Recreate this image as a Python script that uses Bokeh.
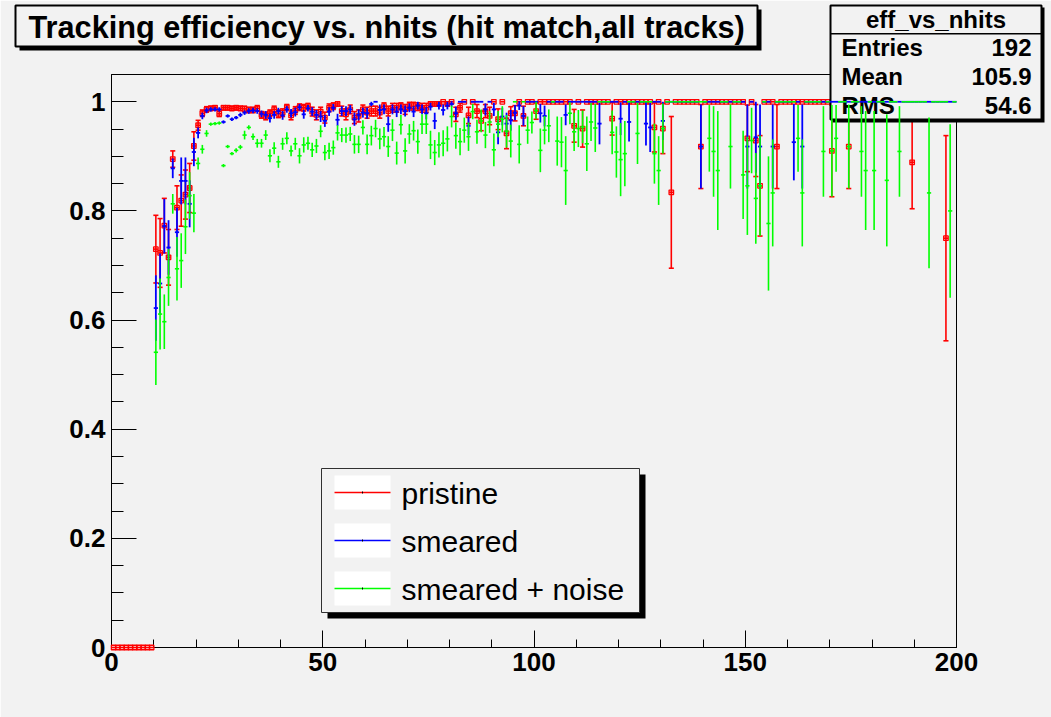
from bokeh.plotting import figure
from bokeh.models import ColumnDataSource, Range1d, FixedTicker
from bokeh.core.properties import value
from bokeh.embed import file_html
from bokeh.resources import INLINE

# ---------------------------------------------------------------------------
# Tracking efficiency per nhits bin (bins of width 1, value and binomial error)
# ---------------------------------------------------------------------------
pristine_first_bin = 0
pristine_eff = [
    0, 0, 0, 0, 0, 0, 0, 0, 0, 0,                                              # 0-9
    0.730, 0.723, 0.773, 0.715, 0.895, 0.806, 0.819, 0.830, 0.842, 0.919,      # 10-19
    0.957, 0.979, 0.986, 0.988, 0.989, 0.978, 0.989, 0.989, 0.988, 0.989,      # 20-29
    0.988, 0.987, 0.985, 0.985, 0.988, 0.976, 0.974, 0.979, 0.986, 0.978,      # 30-39
    0.980, 0.990, 0.975, 0.984, 0.990, 0.989, 0.992, 0.982, 0.976, 0.982,      # 40-49
    0.971, 0.989, 0.992, 0.996, 0.983, 0.977, 0.986, 0.971, 0.974, 0.986,      # 50-59
    0.980, 0.983, 0.983, 0.980, 0.992, 0.983, 0.989, 0.989, 0.992, 0.986,      # 60-69
    0.992, 0.992, 0.991, 0.989, 0.989, 0.996, 0.996, 0.996, 1.000, 0.996,      # 70-79
    1.000, 0.977, 0.989, 1.000, 0.975, 1.000, 0.983, 0.965, 0.983, 0.974,      # 80-89
    1.000, 0.968, 1.000, 0.942, 0.979, 0.979, 1.000, 0.974, 1.000, 1.000,      # 90-99
    0.983, 1.000, 1.000, 1.000, 1.000, 1.000, 1.000, 1.000, 1.000, 0.956,      # 100-109
    1.000, 0.951, 1.000, 1.000, 1.000, 1.000, 1.000, 1.000, 0.969, 1.000,      # 110-119
    1.000, 1.000, 1.000, 1.000, 1.000, 1.000, 1.000, 1.000, 0.953, 1.000,      # 120-129
    0.951, 1.000, 0.834, 1.000, 1.000, 1.000, 1.000, 1.000, 1.000, 0.918,      # 130-139
    1.000, 1.000, 1.000, 1.000, 1.000, 1.000, 1.000, 1.000, 1.000, 1.000,      # 140-149
    0.933, 1.000, 0.929, 0.846, 1.000, 1.000, 1.000, 0.918, 1.000, 1.000,      # 150-159
    1.000, 1.000, 1.000, 1.000, 1.000, 1.000, 1.000, 1.000, 1.000, 1.000,      # 160-169
    0.910, 1.000, 1.000, 1.000, 0.918, 1.000, 1.000, 1.000, 1.000, 1.000,      # 170-179
    1.000, 1.000, 1.000, 1.000, 1.000, 1.000, 1.000, 1.000, 1.000, 0.889,      # 180-189
    1.000, 1.000, 1.000, 1.000, 1.000, 1.000, 1.000, 0.750, 1.000, 1.000,      # 190-199
]
pristine_err = [
    0, 0, 0, 0, 0, 0, 0, 0, 0, 0,
    0.062, 0.063, 0.050, 0.051, 0.015, 0.040, 0.047, 0.045, 0.045, 0.026,
    0.009, 0.006, 0.005, 0.004, 0.004, 0.005, 0.004, 0.004, 0.004, 0.004,
    0.004, 0.005, 0.005, 0.005, 0.005, 0.006, 0.007, 0.006, 0.006, 0.007,
    0.007, 0.005, 0.008, 0.007, 0.006, 0.006, 0.005, 0.008, 0.009, 0.008,
    0.010, 0.007, 0.006, 0.004, 0.009, 0.010, 0.008, 0.011, 0.011, 0.008,
    0.010, 0.009, 0.009, 0.010, 0.006, 0.009, 0.008, 0.008, 0.006, 0.009,
    0.007, 0.007, 0.007, 0.008, 0.008, 0.004, 0.004, 0.004, 0, 0.004,
    0, 0.013, 0.008, 0, 0.015, 0, 0.012, 0.018, 0.012, 0.016,
    0, 0.019, 0, 0.028, 0.012, 0.014, 0, 0.018, 0, 0,
    0.015, 0, 0, 0, 0, 0, 0, 0, 0, 0.030,
    0, 0.034, 0, 0, 0, 0, 0, 0, 0.030, 0,
    0, 0, 0, 0, 0, 0, 0, 0, 0.045, 0,
    0.046, 0, 0.139, 0, 0, 0, 0, 0, 0, 0.077,
    0, 0, 0, 0, 0, 0, 0, 0, 0, 0,
    0.061, 0, 0.066, 0.092, 0, 0, 0, 0.077, 0, 0,
    0, 0, 0, 0, 0, 0, 0, 0, 0, 0,
    0.084, 0, 0, 0, 0.077, 0, 0, 0, 0, 0,
    0, 0, 0, 0, 0, 0, 0, 0, 0, 0.085,
    0, 0, 0, 0, 0, 0, 0, 0.188, 0, 0,
]

smeared_first_bin = 10
smeared_eff = [
    0.622, 0.667, 0.772, 0.733, 0.878, 0.761, 0.855, 0.855, 0.813, 0.908,      # 10-19
    0.943, 0.974, 0.984, 0.986, 0.986, 0.986, 0.963, 0.974, 0.968, 0.971,      # 20-29
    0.976, 0.980, 0.983, 0.984, 0.983, 0.978, 0.976, 0.970, 0.976, 0.983,      # 30-39
    0.975, 0.986, 0.979, 0.981, 0.990, 0.977, 0.988, 0.982, 0.976, 0.973,      # 40-49
    0.965, 0.982, 0.989, 0.967, 0.983, 0.983, 0.986, 0.968, 0.976, 0.980,      # 50-59
    0.979, 0.996, 1.000, 0.985, 0.986, 0.959, 0.986, 0.982, 0.986, 0.983,      # 60-69
    0.989, 0.982, 0.993, 0.986, 0.979, 0.991, 0.965, 0.993, 0.985, 0.993,      # 70-79
    0.996, 0.979, 1.000, 1.000, 0.956, 1.000, 1.000, 1.000, 0.986, 1.000,      # 80-89
    0.986, 0.944, 0.973, 0.960, 0.966, 0.980, 0.993, 0.974, 1.000, 1.000,      # 90-99
    1.000, 0.979, 0.974, 1.000, 1.000, 1.000, 1.000, 0.976, 1.000, 1.000,      # 100-109
    1.000, 1.000, 1.000, 1.000, 1.000, 0.960, 1.000, 1.000, 1.000, 1.000,      # 110-119
    0.969, 1.000, 0.963, 1.000, 1.000, 1.000, 0.960, 0.953, 1.000, 1.000,      # 120-129
    0.965, 1.000, 1.000, 1.000, 1.000, 1.000, 1.000, 1.000, 1.000, 0.918,      # 130-139
    1.000, 1.000, 1.000, 1.000, 1.000, 1.000, 1.000, 1.000, 1.000, 1.000,      # 140-149
    0.918, 1.000, 0.935, 0.918, 1.000, 1.000, 0.918, 1.000, 1.000, 1.000,      # 150-159
    1.000, 0.926, 1.000, 0.918, 1.000, 1.000, 1.000, 1.000, 1.000, 1.000,      # 160-169
    1.000, 1.000, 1.000, 1.000, 1.000, 1.000, 1.000, 1.000, 1.000, 1.000,      # 170-179
    1.000, 1.000, 1.000, 1.000, 1.000, 1.000, 1.000, 1.000, 1.000, 1.000,      # 180-189
    1.000, 1.000, 1.000, 1.000, 1.000, 1.000, 1.000, 1.000, 1.000, 1.000,      # 190-199
]
smeared_err = [
    0.060, 0.055, 0.050, 0.050, 0.018, 0.045, 0.043, 0.043, 0.043, 0.026,
    0.010, 0.006, 0.005, 0.004, 0.004, 0.004, 0.003, 0.003, 0.003, 0.003,
    0.004, 0.004, 0.005, 0.005, 0.005, 0.006, 0.007, 0.008, 0.007, 0.006,
    0.008, 0.006, 0.008, 0.008, 0.006, 0.008, 0.006, 0.008, 0.009, 0.010,
    0.011, 0.008, 0.007, 0.011, 0.009, 0.009, 0.008, 0.012, 0.010, 0.009,
    0.010, 0.004, 0, 0.010, 0.009, 0.014, 0.009, 0.010, 0.009, 0.010,
    0.008, 0.010, 0.007, 0.009, 0.011, 0.007, 0.015, 0.007, 0.010, 0.007,
    0.005, 0.012, 0, 0, 0.017, 0, 0, 0, 0.011, 0,
    0.012, 0.022, 0.016, 0.020, 0.019, 0.014, 0.008, 0.018, 0, 0,
    0, 0.017, 0.019, 0, 0, 0, 0, 0.019, 0, 0,
    0, 0, 0, 0, 0, 0.038, 0, 0, 0, 0,
    0.030, 0, 0.036, 0, 0, 0, 0.040, 0.045, 0, 0,
    0.035, 0, 0, 0, 0, 0, 0, 0, 0, 0.077,
    0, 0, 0, 0, 0, 0, 0, 0, 0, 0,
    0.077, 0, 0.065, 0.077, 0, 0, 0.077, 0, 0, 0,
    0, 0.070, 0, 0.077, 0, 0, 0, 0, 0, 0,
    0, 0, 0, 0, 0, 0, 0, 0, 0, 0,
    0, 0, 0, 0, 0, 0, 0, 0, 0, 0,
    0, 0, 0, 0, 0, 0, 0, 0, 0, 0,
]

noise_first_bin = 10
noise_eff = [
    0.541, 0.611, 0.597, 0.678, 0.813, 0.694, 0.709, 0.771, 0.828, 0.796,      # 10-19
    0.887, 0.913, 0.942, 0.959, 0.960, 0.961, 0.883, 0.918, 0.905, 0.911,      # 20-29
    0.917, 0.939, 0.953, 0.936, 0.924, 0.924, 0.939, 0.901, 0.915, 0.890,      # 30-39
    0.923, 0.933, 0.910, 0.923, 0.901, 0.921, 0.924, 0.912, 0.919, 0.946,      # 40-49
    0.907, 0.910, 0.916, 0.943, 0.939, 0.939, 0.941, 0.922, 0.922, 0.953,      # 50-59
    0.922, 0.938, 0.951, 0.932, 0.936, 0.918, 0.948, 0.906, 0.958, 0.910,      # 60-69
    0.941, 0.947, 0.927, 0.959, 0.959, 0.921, 0.907, 0.921, 0.924, 0.932,      # 70-79
    0.973, 0.938, 0.927, 0.948, 0.936, 0.982, 0.945, 0.965, 0.939, 0.963,      # 80-89
    0.912, 0.959, 0.968, 0.946, 0.928, 1.000, 0.922, 1.000, 0.948, 0.962,      # 90-99
    0.984, 0.911, 0.948, 0.956, 1.000, 0.928, 0.926, 0.874, 0.979, 0.945,      # 100-109
    0.951, 0.954, 0.923, 0.963, 0.952, 1.000, 1.000, 1.000, 0.944, 0.908,      # 110-119
    0.894, 0.905, 1.000, 1.000, 0.942, 1.000, 1.000, 1.000, 0.905, 0.874,      # 120-129
    0.951, 1.000, 1.000, 1.000, 1.000, 1.000, 1.000, 1.000, 1.000, 1.000,      # 130-139
    1.000, 0.933, 0.909, 0.874, 1.000, 1.000, 0.918, 1.000, 1.000, 0.866,      # 140-149
    0.846, 0.929, 0.823, 0.846, 1.000, 0.777, 0.833, 1.000, 1.000, 1.000,      # 150-159
    1.000, 1.000, 0.933, 0.833, 1.000, 1.000, 1.000, 1.000, 0.909, 1.000,      # 160-169
    0.910, 0.933, 1.000, 1.000, 0.918, 1.000, 1.000, 0.909, 0.874, 1.000,      # 170-179
    0.874, 1.000, 1.000, 0.856, 1.000, 1.000, 0.909, 1.000, 1.000, 1.000,      # 180-189
    1.000, 1.000, 1.000, 0.833, 1.000, 1.000, 1.000, 1.000, 0.800, 1.000,      # 190-199
]
noise_err = [
    0.060, 0.065, 0.050, 0.052, 0.018, 0.058, 0.050, 0.050, 0.043, 0.035,
    0.011, 0.008, 0.006, 0.003, 0.003, 0.003, 0.003, 0.003, 0.003, 0.004,
    0.004, 0.008, 0.004, 0.006, 0.008, 0.008, 0.009, 0.012, 0.011, 0.011,
    0.011, 0.011, 0.010, 0.011, 0.014, 0.014, 0.012, 0.013, 0.013, 0.011,
    0.014, 0.015, 0.013, 0.014, 0.013, 0.014, 0.013, 0.017, 0.016, 0.013,
    0.018, 0.018, 0.016, 0.019, 0.018, 0.019, 0.020, 0.021, 0.018, 0.023,
    0.018, 0.018, 0.022, 0.018, 0.018, 0.026, 0.023, 0.023, 0.024, 0.023,
    0.020, 0.024, 0.025, 0.023, 0.026, 0.014, 0.022, 0.021, 0.024, 0.020,
    0.030, 0.024, 0.024, 0.030, 0.030, 0, 0.035, 0, 0.025, 0.020,
    0.016, 0.040, 0.026, 0.030, 0, 0.045, 0.046, 0.063, 0.020, 0.035,
    0.034, 0.030, 0.050, 0.035, 0.044, 0, 0, 0, 0.040, 0.047,
    0.067, 0.060, 0, 0, 0.056, 0, 0, 0, 0.055, 0.063,
    0.046, 0, 0, 0, 0, 0, 0, 0, 0, 0,
    0, 0.061, 0.083, 0.109, 0, 0, 0.077, 0, 0, 0.081,
    0.090, 0.060, 0.083, 0.092, 0, 0.123, 0.098, 0, 0, 0,
    0, 0, 0.061, 0.098, 0, 0, 0, 0, 0.083, 0,
    0.084, 0.061, 0, 0, 0.077, 0, 0, 0.083, 0.109, 0,
    0.109, 0, 0, 0.121, 0, 0, 0.083, 0, 0, 0,
    0, 0, 0, 0.138, 0, 0, 0, 0, 0.159, 0,
]

x_ticks = [0, 50, 100, 150, 200]
y_ticks = [0, 0.2, 0.4, 0.6, 0.8, 1]
y_tick_labels = {0: "0", 0.2: "0.2", 0.4: "0.4", 0.6: "0.6", 0.8: "0.8", 1: "1"}

title_text = "Tracking efficiency vs. nhits (hit match,all tracks)"
stats_name = "eff_vs_nhits"
stats_rows = [("Entries", "192"), ("Mean", "105.9"), ("RMS", "54.6")]
legend_entries = [("pristine", "#ff0000"), ("smeared", "#0000ff"),
                  ("smeared + noise", "#00ff00")]

# ---------------------------------------------------------------------------
# Page geometry (pixels)
# ---------------------------------------------------------------------------
W, H = 1051, 717
FL, FR, FT, FB = 111, 956, 74, 647
X_MAX, Y_MAX = 200, 1.05
BG = "#f2f2f2"
FONT = "Liberation Sans"

p = figure(width=W, height=H, output_backend="svg", toolbar_location=None,
           title=None, x_range=Range1d(0, X_MAX), y_range=Range1d(0, Y_MAX),
           min_border_left=FL, min_border_right=W - FR,
           min_border_top=FT, min_border_bottom=H - FB,
           background_fill_color=BG, border_fill_color=BG,
           outline_line_color="black", outline_line_width=1)
p.grid.visible = False

xa = p.xaxis[0]
xa.ticker = FixedTicker(ticks=x_ticks, minor_ticks=list(range(0, 201, 10)))
xa.major_tick_in, xa.major_tick_out = 17, 0
xa.minor_tick_in, xa.minor_tick_out = 8, 0
xa.major_label_standoff = 5

ya = p.yaxis[0]
ya.ticker = FixedTicker(ticks=y_ticks, minor_ticks=[round(0.05 * k, 2) for k in range(22)])
ya.major_tick_in, ya.major_tick_out = 25, 0
ya.minor_tick_in, ya.minor_tick_out = 12, 0
ya.major_label_standoff = 6
ya.major_label_overrides = y_tick_labels

for ax in (xa, ya):
    ax.axis_line_color = "black"
    ax.major_tick_line_color = "black"
    ax.minor_tick_line_color = "black"
    ax.major_label_text_font = FONT
    ax.major_label_text_font_style = "bold"
    ax.major_label_text_font_size = "26px"
    ax.major_label_text_color = "black"

# page pixel -> plot coordinate, used to place the panes around the frame
XS = (FR - FL) / X_MAX
YS = (FB - FT) / Y_MAX


def dx(px):
    return (px - FL) / XS


def dy(py):
    return (FB - py) / YS


def box(l, t, r, b, fill, line=None, lw=1):
    rr = p.quad(left=[dx(l)], right=[dx(r)], top=[dy(t)], bottom=[dy(b)],
                fill_color=fill, line_color=line, line_width=lw)
    rr.level = "overlay"


def text(px, py, s, size, bold=True, align="left"):
    rr = p.text(x=[dx(px)], y=[dy(py)], text=[s], text_font=value(FONT),
                text_font_size=value(size),
                text_font_style="bold" if bold else "normal",
                text_color="black", text_align=align, text_baseline="middle")
    rr.level = "overlay"


def draw_series(first_bin, eff, err, color, width, caps=False, squares=False):
    xs = [first_bin + i + 0.5 for i in range(len(eff))]
    src = ColumnDataSource(dict(
        x=xs, xl=[x - 0.5 for x in xs], xr=[x + 0.5 for x in xs], y=eff,
        lo=[v - e for v, e in zip(eff, err)], hi=[v + e for v, e in zip(eff, err)]))
    rs = [p.segment(x0="x", y0="lo", x1="x", y1="hi", source=src,
                    line_color=color, line_width=width),
          p.segment(x0="xl", y0="y", x1="xr", y1="y", source=src,
                    line_color=color, line_width=width)]
    if caps:
        cx = [x for x, e in zip(xs, err) if e > 0]
        clo = [v - e for v, e in zip(eff, err) if e > 0]
        chi = [v + e for v, e in zip(eff, err) if e > 0]
        csrc = ColumnDataSource(dict(a=[x - 0.6 for x in cx], b=[x + 0.6 for x in cx],
                                     lo=clo, hi=chi))
        rs.append(p.segment(x0="a", y0="lo", x1="b", y1="lo", source=csrc,
                            line_color=color, line_width=width))
        rs.append(p.segment(x0="a", y0="hi", x1="b", y1="hi", source=csrc,
                            line_color=color, line_width=width))
    if squares:
        rs.append(p.scatter(x="x", y="y", source=src, marker="square", size=4.5,
                            line_color=color, line_width=1.3, fill_alpha=0))
    for r in rs:
        r.level = "overlay"


# title pave
box(19, 9, 761, 50, "black")
box(15, 5, 757, 46, BG, "black", 2)
text(28, 26.6, title_text, "30.7px")

# legend
box(327, 474, 645, 618, "black")
box(321, 468, 639, 612, BG, "#303030", 1)
for k, (name, color) in enumerate(legend_entries):
    cy = 492 + 48 * k
    box(334, cy - 17, 390, cy + 17, "white")
    box(334, cy - 0.8, 390, cy + 0.8, color)
    box(361.5, cy - 1, 362.5, cy + 1, "black")
    text(401, cy + 0.5, name, "30px", bold=False)

# the first histogram goes under its statistics pave, the others over it
draw_series(pristine_first_bin, pristine_eff, pristine_err, "#ff0000", 1.6,
            caps=True, squares=True)

box(832, 7, 1044, 122, "black")
box(830, 5, 1041, 119, BG, "black", 2)
box(830, 32.5, 1041, 34, "black")
text(935.5, 18.7, stats_name, "24px", align="center")
for k, (name, val) in enumerate(stats_rows):
    mid = 46.7 + 29 * k
    text(841, mid, name, "24px")
    text(1031, mid, val, "24px", align="right")

draw_series(smeared_first_bin, smeared_eff, smeared_err, "#0000ff", 1.8)
draw_series(noise_first_bin, noise_eff, noise_err, "#00ff00", 1.6)

open("out.html", "w").write(file_html(p, INLINE))
